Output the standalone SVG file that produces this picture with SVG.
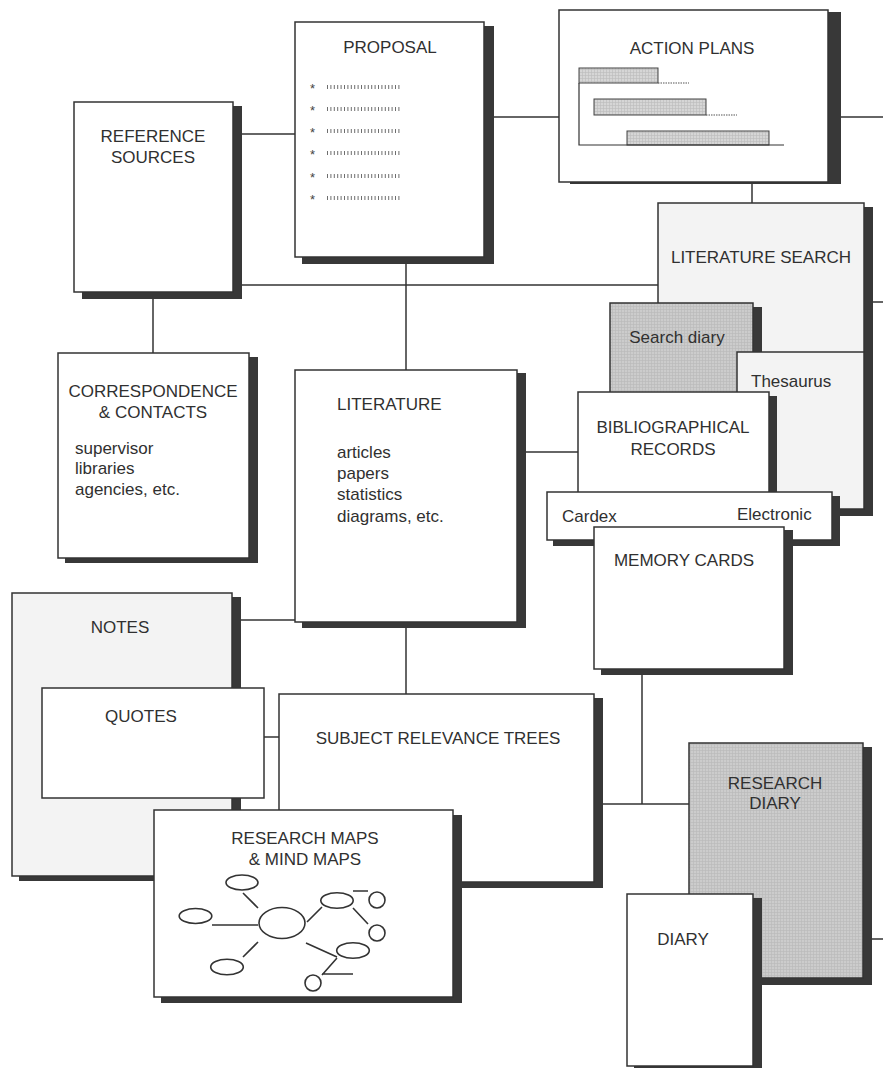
<svg xmlns="http://www.w3.org/2000/svg" width="883" height="1068" viewBox="0 0 883 1068">
  <style>
    .box { fill: #ffffff; stroke: #333333; stroke-width: 1.5; }
    .pale { fill: #f3f3f3; stroke: #333333; stroke-width: 1.5; }
    .tone { fill: url(#screen); stroke: #333333; stroke-width: 1.5; }
    .shadow { fill: #383838; }
    .link { fill: none; stroke: #333333; stroke-width: 1.5; }
    .lbl { font-family: "Liberation Sans", Arial, sans-serif; font-size: 17px; fill: #303030; }
    .mid { text-anchor: middle; }
    .bul { font-family: "Liberation Sans", Arial, sans-serif; font-size: 13px; fill: #444444; }
    .filler { stroke: #6e6e6e; stroke-width: 4; stroke-dasharray: 1 2.4; }
    .map { fill: #ffffff; stroke: #333333; stroke-width: 1.6; }
    .mapline { fill: none; stroke: #333333; stroke-width: 1.6; }
  </style>
  <defs>
    <!-- fine grey screen tone -->
    <pattern id="screen" width="3" height="3" patternUnits="userSpaceOnUse">
      <rect width="3" height="3" fill="#cccccc"/>
      <path d="M0 0.5H3M0.5 0V3" stroke="#b9b9b9" stroke-width="0.6"/>
    </pattern>
    <pattern id="barTone" width="3" height="3" patternUnits="userSpaceOnUse">
      <rect width="3" height="3" fill="#d6d6d6"/>
      <path d="M0 0.5H3M0.5 0V3" stroke="#bcbcbc" stroke-width="0.6"/>
    </pattern>
  </defs>

  <rect width="883" height="1068" fill="#ffffff"/>

  <!-- connectors -->
  <g id="connectors">
    <path class="link" d="M242 134H295"/>
    <path class="link" d="M242 285H658"/>
    <path class="link" d="M153 299V353"/>
    <path class="link" d="M494 117H559"/>
    <path class="link" d="M841 117H883"/>
    <path class="link" d="M752 184V203"/>
    <path class="link" d="M873 302H883"/>
    <path class="link" d="M406 264V370"/>
    <path class="link" d="M526 452H578"/>
    <path class="link" d="M406 628V694"/>
    <path class="link" d="M241 620H295"/>
    <path class="link" d="M264 737H279"/>
    <path class="link" d="M642 675V804"/>
    <path class="link" d="M603 804H689"/>
    <path class="link" d="M872 939H883"/>
  </g>

  <!-- reference sources -->
  <g id="reference-sources">
    <rect class="shadow" x="82" y="106" width="160" height="193"/>
    <rect class="box" x="74" y="102" width="159" height="190"/>
    <text class="lbl mid" x="153" y="142">REFERENCE</text>
    <text class="lbl mid" x="153" y="163">SOURCES</text>
  </g>

  <!-- proposal -->
  <g id="proposal">
    <rect class="shadow" x="302" y="26" width="192" height="238"/>
    <rect class="box" x="295" y="22" width="189" height="235"/>
    <text class="lbl mid" x="390" y="53">PROPOSAL</text>
    <g>
      <text class="bul" x="310" y="93">*</text>
      <line class="filler" x1="327" y1="87" x2="400" y2="87"/>
      <text class="bul" x="310" y="115">*</text>
      <line class="filler" x1="327" y1="109" x2="400" y2="109"/>
      <text class="bul" x="310" y="137">*</text>
      <line class="filler" x1="327" y1="131" x2="400" y2="131"/>
      <text class="bul" x="310" y="159">*</text>
      <line class="filler" x1="327" y1="153" x2="400" y2="153"/>
      <text class="bul" x="310" y="182">*</text>
      <line class="filler" x1="327" y1="176" x2="400" y2="176"/>
      <text class="bul" x="310" y="204">*</text>
      <line class="filler" x1="327" y1="198" x2="400" y2="198"/>
    </g>
  </g>

  <!-- action plans -->
  <g id="action-plans">
    <rect class="shadow" x="570" y="12" width="271" height="172"/>
    <rect class="box" x="559" y="10" width="269" height="172"/>
    <text class="lbl mid" x="692" y="54">ACTION PLANS</text>
    <rect x="579" y="68" width="79" height="15" fill="url(#barTone)" stroke="#444" stroke-width="1"/>
    <line x1="658" y1="83" x2="689" y2="83" stroke="#555" stroke-width="1.2" stroke-dasharray="1.5 1"/>
    <rect x="594" y="99" width="112" height="16" fill="url(#barTone)" stroke="#444" stroke-width="1"/>
    <line x1="706" y1="115" x2="737" y2="115" stroke="#555" stroke-width="1.2" stroke-dasharray="1.5 1"/>
    <rect x="627" y="131" width="142" height="14" fill="url(#barTone)" stroke="#444" stroke-width="1"/>
    <path d="M579 83V145H784" fill="none" stroke="#333" stroke-width="1.2"/>
  </g>

  <!-- literature search -->
  <g id="literature-search">
    <rect class="shadow" x="665" y="207" width="208" height="309"/>
    <rect class="pale" x="658" y="203" width="206" height="306"/>
    <text class="lbl mid" x="761" y="263">LITERATURE SEARCH</text>
  </g>

  <g id="search-diary">
    <rect class="shadow" x="617" y="307" width="145" height="85"/>
    <rect class="tone" x="610" y="303" width="143" height="95"/>
    <text class="lbl mid" x="677" y="343">Search diary</text>
  </g>

  <g id="thesaurus">
    <rect class="pale" x="737" y="352" width="127" height="157"/>
    <text class="lbl" x="751" y="387">Thesaurus</text>
  </g>

  <g id="bibliographical-records">
    <rect class="shadow" x="585" y="396" width="192" height="96"/>
    <rect class="box" x="578" y="392" width="191" height="110"/>
    <text class="lbl mid" x="673" y="433">BIBLIOGRAPHICAL</text>
    <text class="lbl mid" x="673" y="455">RECORDS</text>
  </g>

  <g id="cardex-electronic">
    <rect class="shadow" x="553" y="496" width="287" height="50"/>
    <rect class="box" x="547" y="492" width="285" height="48"/>
    <text class="lbl" x="562" y="522">Cardex</text>
    <text class="lbl" x="737" y="520">Electronic</text>
  </g>

  <g id="memory-cards">
    <rect class="shadow" x="601" y="530" width="192" height="145"/>
    <rect class="box" x="594" y="527" width="190" height="142"/>
    <text class="lbl mid" x="684" y="566">MEMORY CARDS</text>
  </g>

  <!-- correspondence -->
  <g id="correspondence">
    <rect class="shadow" x="65" y="357" width="193" height="206"/>
    <rect class="box" x="58" y="353" width="191" height="205"/>
    <text class="lbl mid" x="153" y="397">CORRESPONDENCE</text>
    <text class="lbl mid" x="153" y="418">&amp; CONTACTS</text>
    <text class="lbl" x="75" y="454">supervisor</text>
    <text class="lbl" x="75" y="474">libraries</text>
    <text class="lbl" x="75" y="495">agencies, etc.</text>
  </g>

  <!-- literature -->
  <g id="literature">
    <rect class="shadow" x="302" y="373" width="224" height="255"/>
    <rect class="box" x="295" y="370" width="222" height="252"/>
    <text class="lbl" x="337" y="410">LITERATURE</text>
    <text class="lbl" x="337" y="458">articles</text>
    <text class="lbl" x="337" y="479">papers</text>
    <text class="lbl" x="337" y="500">statistics</text>
    <text class="lbl" x="337" y="522">diagrams, etc.</text>
  </g>

  <!-- notes -->
  <g id="notes">
    <rect class="shadow" x="19" y="597" width="222" height="284"/>
    <rect class="pale" x="12" y="593" width="220" height="283"/>
    <text class="lbl mid" x="120" y="633">NOTES</text>
  </g>

  <g id="quotes">
    <rect class="box" x="42" y="688" width="222" height="110"/>
    <text class="lbl mid" x="141" y="722">QUOTES</text>
  </g>

  <g id="subject-relevance-trees">
    <rect class="shadow" x="286" y="698" width="317" height="190"/>
    <rect class="box" x="279" y="694" width="315" height="188"/>
    <text class="lbl mid" x="438" y="744">SUBJECT RELEVANCE TREES</text>
  </g>

  <g id="research-maps">
    <rect class="shadow" x="161" y="815" width="301" height="188"/>
    <rect class="box" x="154" y="810" width="299" height="187"/>
    <text class="lbl mid" x="305" y="844">RESEARCH MAPS</text>
    <text class="lbl mid" x="305" y="865">&amp; MIND MAPS</text>
    <!-- mind map sketch -->
    <path class="mapline" d="M243 893L258 908M212 925H258M243 957L258 942M307 922L322 907M353 891H368M353 908L368 924M306 943L337 957M337 958L322 975M322 974H353"/>
    <ellipse class="map" cx="282" cy="923" rx="23" ry="15.5"/>
    <ellipse class="map" cx="242" cy="882.5" rx="16" ry="7.5"/>
    <ellipse class="map" cx="195.5" cy="916" rx="16.3" ry="7.5"/>
    <ellipse class="map" cx="227" cy="967" rx="16.3" ry="7.8"/>
    <ellipse class="map" cx="337" cy="900.5" rx="16.2" ry="7.8"/>
    <ellipse class="map" cx="353" cy="950.5" rx="16.3" ry="7.8"/>
    <circle class="map" cx="377" cy="900" r="8"/>
    <circle class="map" cx="377" cy="933" r="8"/>
    <circle class="map" cx="313" cy="983" r="8"/>
  </g>

  <!-- research diary -->
  <g id="research-diary">
    <rect class="shadow" x="696" y="747" width="176" height="238"/>
    <rect class="tone" x="689" y="743" width="174" height="235"/>
    <text class="lbl mid" x="775" y="789">RESEARCH</text>
    <text class="lbl mid" x="775" y="809">DIARY</text>
  </g>

  <g id="diary">
    <rect class="shadow" x="634" y="898" width="128" height="175"/>
    <rect class="box" x="627" y="894" width="126" height="172"/>
    <text class="lbl mid" x="683" y="945">DIARY</text>
  </g>
</svg>
